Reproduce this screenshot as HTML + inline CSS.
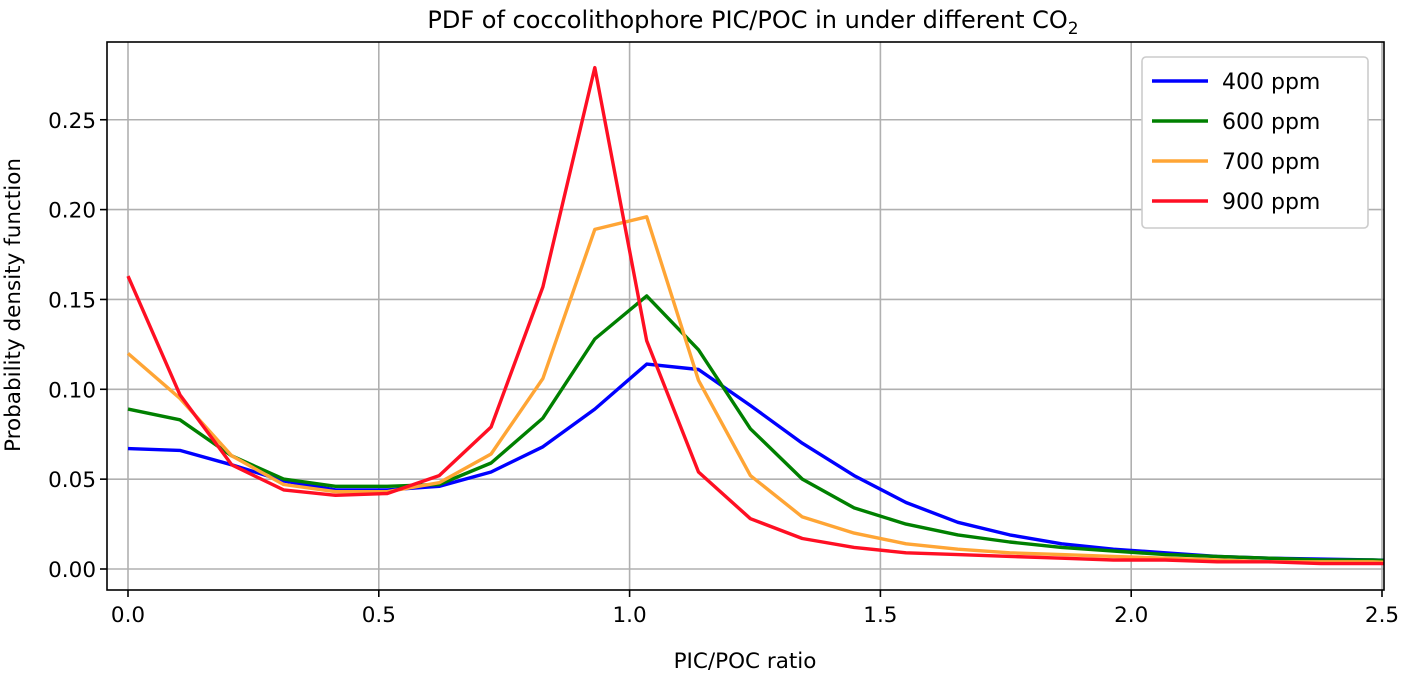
<!DOCTYPE html>
<html><head><meta charset="utf-8"><style>
body{margin:0;background:#fff;font-family:"Liberation Sans","DejaVu Sans",sans-serif}
svg text{font-family:"DejaVu Sans","Liberation Sans",sans-serif;fill:#000}
</style></head><body>
<svg id="chart" width="1403" height="673" xmlns="http://www.w3.org/2000/svg"></svg>
<script>
const xTicks=[0,0.5,1.0,1.5,2.0,2.5];
const xTickLabels=["0.0","0.5","1.0","1.5","2.0","2.5"];
const yTicks=[0,0.05,0.10,0.15,0.20,0.25];
const yTickLabels=["0.00","0.05","0.10","0.15","0.20","0.25"];
const binStep=0.1034;
const seriesNames=["400 ppm","600 ppm","700 ppm","900 ppm"];
const seriesColors=["#0000ff","#008000","#ffa535","#ff0f23"];
const s400=[0.067,0.066,0.058,0.049,0.044,0.044,0.046,0.054,0.068,0.089,0.114,0.111,0.091,0.070,0.052,0.037,0.026,0.019,0.014,0.011,0.009,0.007,0.006,0.0055,0.005,0.0045];
const s600=[0.089,0.083,0.063,0.050,0.046,0.046,0.047,0.059,0.084,0.128,0.152,0.122,0.078,0.050,0.034,0.025,0.019,0.015,0.012,0.010,0.008,0.007,0.006,0.005,0.005,0.004];
const s700=[0.120,0.095,0.063,0.047,0.043,0.043,0.048,0.064,0.106,0.189,0.196,0.105,0.052,0.029,0.020,0.014,0.011,0.009,0.008,0.007,0.006,0.005,0.004,0.004,0.004,0.003];
const s900=[0.163,0.097,0.058,0.044,0.041,0.042,0.052,0.079,0.157,0.279,0.127,0.054,0.028,0.017,0.012,0.009,0.008,0.007,0.006,0.005,0.005,0.004,0.004,0.003,0.003,0.003];
const allSeries=[s400,s600,s700,s900];

const L=107,R=1384,T=42,B=590;
const xs=v=>128+v*501.6;
const ys=v=>569-v*1797;
const NS="http://www.w3.org/2000/svg";
const svg=document.getElementById('chart');
function mk(tag,attrs,parent){const e=document.createElementNS(NS,tag);for(const k in attrs)e.setAttribute(k,attrs[k]);(parent||svg).appendChild(e);return e;}

const defs=mk('defs',{});
const cp=mk('clipPath',{id:'pc'},defs);
mk('rect',{x:L,y:T,width:R-L,height:B-T},cp);

xTicks.forEach((t,i)=>{
  const g=mk('line',{x1:xs(t),x2:xs(t),y1:T,y2:B,stroke:'#b0b0b0','stroke-width':1.6});
  
  
  mk('line',{x1:xs(t),x2:xs(t),y1:B,y2:B+7,stroke:'#000','stroke-width':1.6});
  const tx=mk('text',{x:xs(t),y:B+32,'text-anchor':'middle','font-size':21.5});
  tx.textContent=xTickLabels[i];
  
  
});
yTicks.forEach((t,i)=>{
  const g=mk('line',{x1:L,x2:R,y1:ys(t),y2:ys(t),stroke:'#b0b0b0','stroke-width':1.6});
  
  
  mk('line',{x1:L-7,x2:L,y1:ys(t),y2:ys(t),stroke:'#000','stroke-width':1.6});
  const tx=mk('text',{x:L-11,y:ys(t)+8,'text-anchor':'end','font-size':21.5});
  tx.textContent=yTickLabels[i];
  
  
});

const lines=mk('g',{'clip-path':'url(#pc)'});
allSeries.forEach((s,k)=>{
  const d=s.map((v,i)=>(i?'L':'M')+xs(i*binStep).toFixed(1)+','+ys(v).toFixed(1)).join(' ');
  const p=mk('path',{d:d,fill:'none',stroke:seriesColors[k],'stroke-width':3.4,'stroke-linejoin':'round'},lines);
  
  
});

const frame=mk('rect',{x:L,y:T,width:R-L,height:B-T,fill:'none',stroke:'#000','stroke-width':1.6});



const lg=mk('g',{});


mk('rect',{x:1142,y:57,width:226,height:171,rx:4,fill:'#fff',stroke:'#ccc','stroke-width':1.6},lg);
seriesNames.forEach((n,k)=>{
  const y=81+k*40;
  mk('line',{x1:1152,x2:1208,y1:y,y2:y,stroke:seriesColors[k],'stroke-width':3.4},lg);
  const t=mk('text',{x:1222,y:y+8,'font-size':22},lg);
  t.textContent=n;
  
  
});

const title=mk('text',{x:753,y:28,'text-anchor':'middle','font-size':24});
title.innerHTML='PDF of coccolithophore PIC/POC in under different CO<tspan font-size="17" dy="6">2</tspan>';


const xl=mk('text',{x:745,y:668,'text-anchor':'middle','font-size':21.5});
xl.textContent='PIC/POC ratio';


const yl=mk('text',{x:20,y:305,'text-anchor':'middle','font-size':21.5,transform:'rotate(-90 20 305)'});
yl.textContent='Probability density function';


</script>
</body></html>
